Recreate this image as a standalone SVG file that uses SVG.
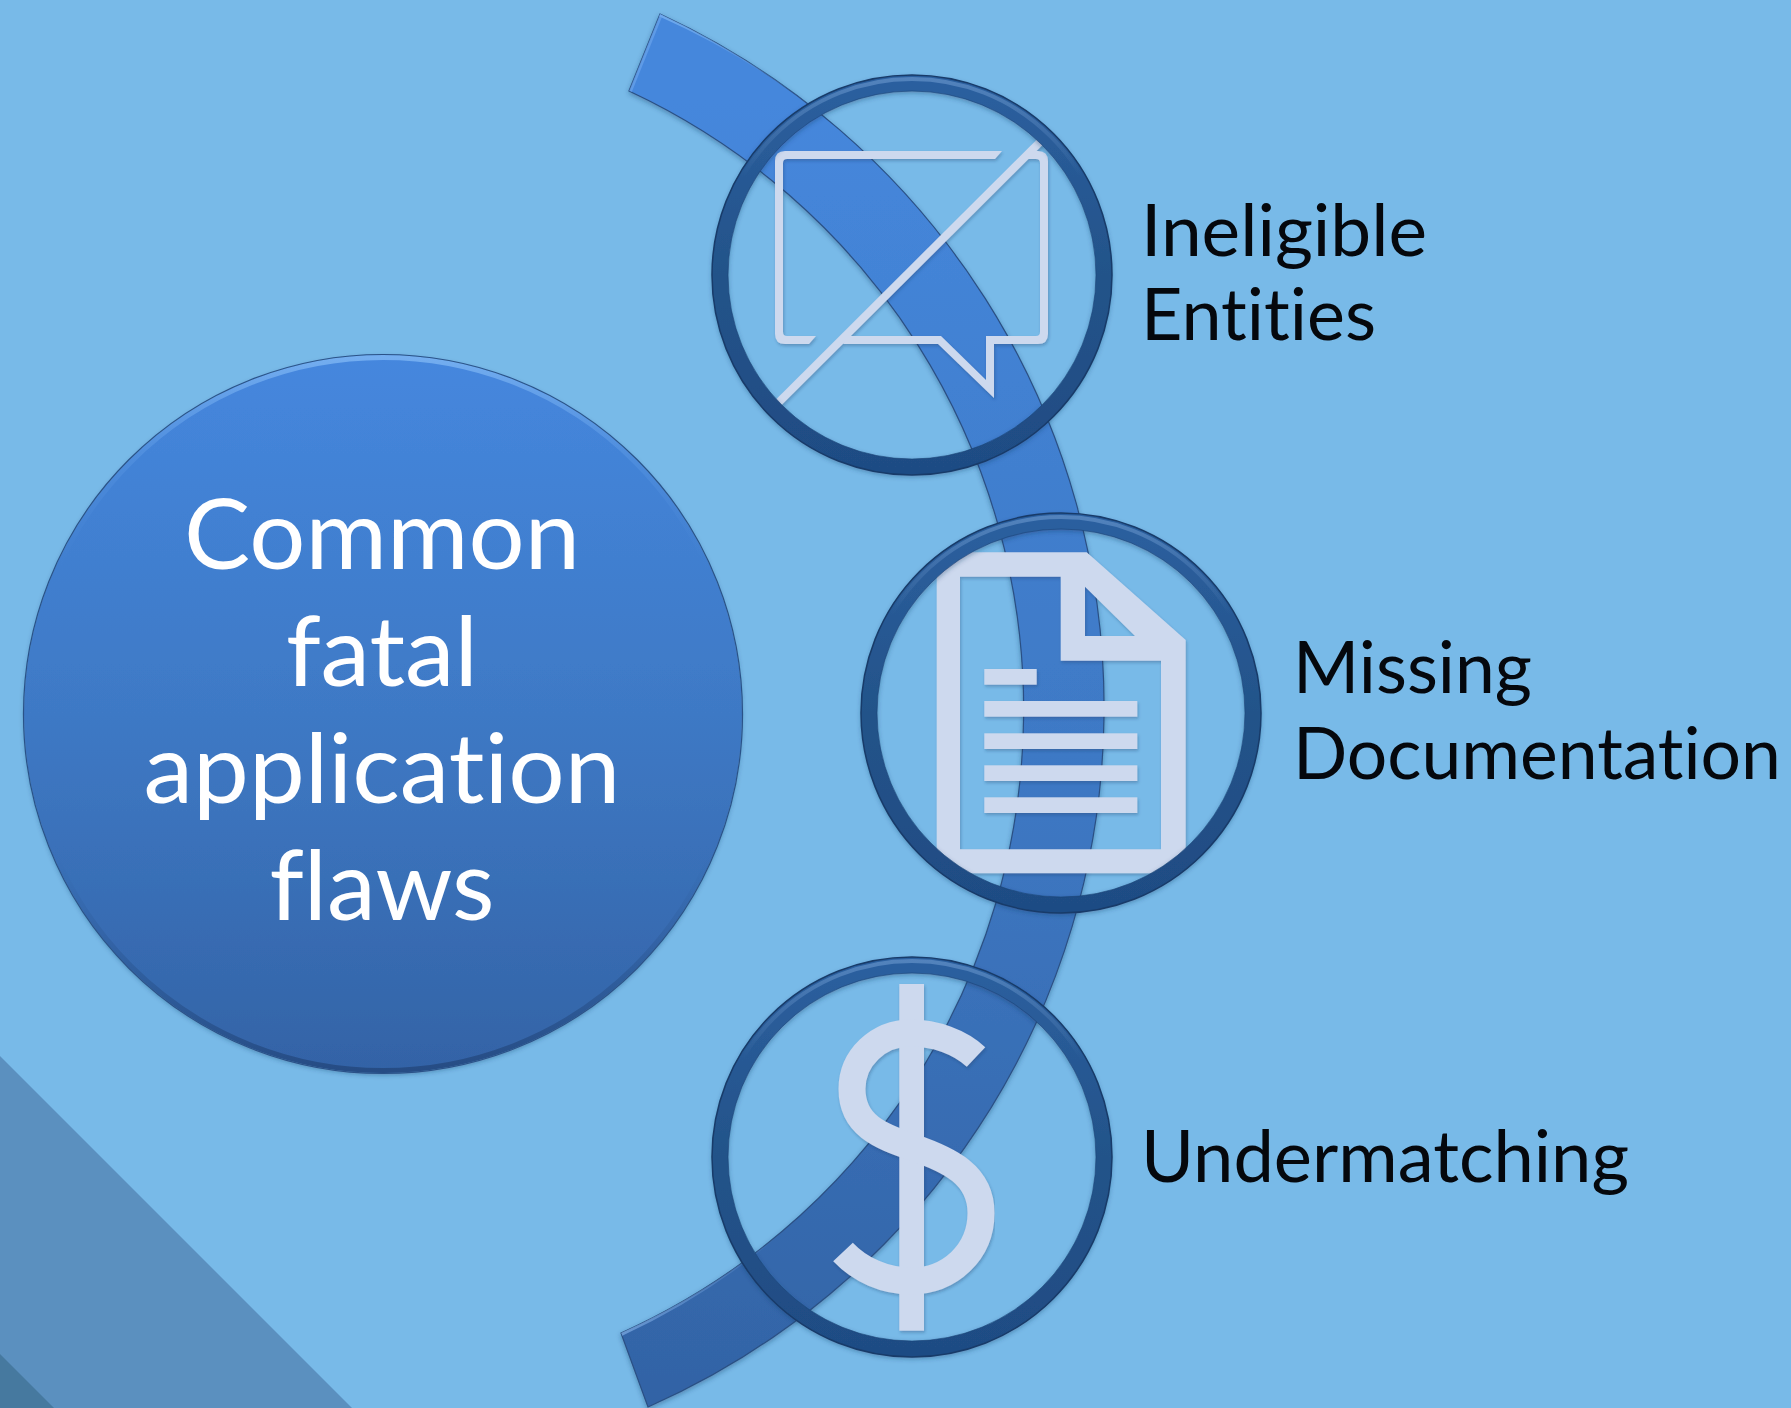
<svg xmlns="http://www.w3.org/2000/svg" width="1791" height="1408" viewBox="0 0 1791 1408">
<defs>
<linearGradient id="circFill" gradientUnits="userSpaceOnUse" x1="0" y1="354" x2="0" y2="1074"><stop offset="0" stop-color="#4587de"/><stop offset="0.5" stop-color="#3e79c5"/><stop offset="1" stop-color="#3363a6"/></linearGradient>
<linearGradient id="bandFill" gradientUnits="userSpaceOnUse" x1="0" y1="100" x2="0" y2="1408"><stop offset="0" stop-color="#4587dc"/><stop offset="0.5" stop-color="#3e79c5"/><stop offset="1" stop-color="#3263a5"/></linearGradient>
<linearGradient id="rim" x1="0" y1="0" x2="0" y2="1"><stop offset="0" stop-color="#74aef0"/><stop offset="0.15" stop-color="#5f9ce6" stop-opacity="0.35"/><stop offset="0.3" stop-color="#4d8ad8" stop-opacity="0"/><stop offset="0.7" stop-color="#2f5f9e" stop-opacity="0"/><stop offset="1" stop-color="#264c84"/></linearGradient>
<linearGradient id="ringFill" x1="0" y1="0" x2="0" y2="1"><stop offset="0" stop-color="#2c5f9f"/><stop offset="0.5" stop-color="#235389"/><stop offset="1" stop-color="#1f4c84"/></linearGradient>
<linearGradient id="ringHi" x1="0" y1="0" x2="0" y2="1"><stop offset="0" stop-color="#8fb8e8" stop-opacity="0.4"/><stop offset="0.25" stop-color="#8fb8e8" stop-opacity="0"/></linearGradient>
<linearGradient id="topHi" gradientUnits="userSpaceOnUse" x1="660" y1="14" x2="800" y2="100"><stop offset="0" stop-color="#7ab4f4" stop-opacity="0.8"/><stop offset="1" stop-color="#7ab4f4" stop-opacity="0.1"/></linearGradient>
<linearGradient id="botHi" gradientUnits="userSpaceOnUse" x1="621" y1="1333" x2="780" y2="1230"><stop offset="0" stop-color="#7aa8e0" stop-opacity="0.75"/><stop offset="1" stop-color="#7aa8e0" stop-opacity="0"/></linearGradient>
<filter id="soft" x="-10%" y="-10%" width="120%" height="120%"><feDropShadow dx="0" dy="2" stdDeviation="2.5" flood-color="#16365e" flood-opacity="0.4"/></filter>
<filter id="iconShadow" x="-10%" y="-10%" width="120%" height="120%"><feDropShadow dx="1" dy="2" stdDeviation="1.5" flood-color="#16365e" flood-opacity="0.3"/></filter>
<clipPath id="clipA"><circle cx="912" cy="275" r="186"/></clipPath>
<clipPath id="clipB"><circle cx="1061" cy="713" r="186"/></clipPath>
<clipPath id="bandClip"><path d="M660,14 A764,764 0 0 1 648,1407 L621,1333 A683,683 0 0 0 629,91 Z"/></clipPath>
</defs>
<style>
.ring{fill:none;stroke:url(#ringFill);stroke-width:16}
.ringEdge{fill:none;stroke:#183b69;stroke-width:1.5}
.ringIn{fill:none;stroke:#1b4376;stroke-width:1;opacity:.6}
.ringHi{fill:none;stroke:url(#ringHi);stroke-width:4}
.icon{fill:#cdd9ee}
.label{font-family:Lato,"Liberation Sans",sans-serif;font-size:71px;fill:#05080d;font-variant-ligatures:none}
.title{font-family:Lato,"Liberation Sans",sans-serif;font-size:96px;fill:#ffffff;text-anchor:middle;font-variant-ligatures:none}
</style>
<rect width="1791" height="1408" fill="#78bae8"/>
<polygon points="0,1056 352,1408 0,1408" fill="#5b90bf"/>
<polygon points="0,1354 54,1408 0,1408" fill="#46799f"/>

<g id="arc">
<path d="M660,14 A764,764 0 0 1 648,1407 L621,1333 A683,683 0 0 0 629,91 Z" fill="url(#bandFill)" stroke="#2a5084" stroke-width="1.2" filter="url(#soft)"/>
<g clip-path="url(#bandClip)">
<path d="M660,14 A764,764 0 0 1 820,110" fill="none" stroke="url(#topHi)" stroke-width="5"/>
<path d="M621,1333 A683,683 0 0 0 790,1222" fill="none" stroke="url(#botHi)" stroke-width="6"/>
<path d="M660,14 L629,91" fill="none" stroke="#6fa9ee" stroke-width="6" opacity="0.6"/>
</g>
</g>

<g id="center">
<circle cx="383" cy="714" r="359" fill="url(#circFill)" filter="url(#soft)"/>
<circle cx="383" cy="714" r="356.5" fill="none" stroke="url(#rim)" stroke-width="5"/>
<circle cx="383" cy="714" r="359.5" fill="none" stroke="#2a5288" stroke-width="1.2"/>
<text class="title" x="382" y="569" textLength="396" lengthAdjust="spacingAndGlyphs">Common</text>
<text class="title" x="382" y="686" textLength="192" lengthAdjust="spacingAndGlyphs">fatal</text>
<text class="title" x="382" y="803" textLength="477" lengthAdjust="spacingAndGlyphs">application</text>
<text class="title" x="382" y="920" textLength="225" lengthAdjust="spacingAndGlyphs">flaws</text>
</g>

<g id="node-ineligible">
<g filter="url(#iconShadow)">
<g clip-path="url(#clipA)">
<path class="icon" d="M1002,151 H785 Q775,151 775,161 V334 Q775,344 785,344 H809 L816,336 H787 Q783,336 783,332 V163 Q783,159 787,159 H995 Z"/>
<path class="icon" d="M843,344 H938 L994,398 V344 H1038 Q1048,344 1048,334 V161 Q1048,151 1038,151 H1034 L1027,159 H1036 Q1040,159 1040,163 V332 Q1040,336 1036,336 H986 V380 L941,336 H848 Z"/>
<line x1="770" y1="411" x2="1050" y2="132" stroke="#cdd9ee" stroke-width="8"/>
</g>
</g>
<circle class="ring" cx="912" cy="275" r="192" filter="url(#soft)"/>
<circle class="ringHi" cx="912" cy="275" r="196"/>
<circle class="ringEdge" cx="912" cy="275" r="200"/>
<circle class="ringIn" cx="912" cy="275" r="184"/>
<text class="label" x="1141" y="256" textLength="286" lengthAdjust="spacingAndGlyphs">Ineligible</text>
<text class="label" x="1141" y="340" textLength="235" lengthAdjust="spacingAndGlyphs">Entities</text>
</g>

<g id="node-missing">
<g filter="url(#iconShadow)">
<g clip-path="url(#clipB)">
<path class="icon" fill-rule="evenodd" d="M936.7,552.3 H1086.7 L1185.7,640 V873.3 H936.7 Z M960,576.7 V849.3 H1161 V660.7 H1060.7 V576.7 Z M1085,586.7 V636 H1135 Z"/>
</g>
<rect class="icon" x="984.3" y="669" width="52.4" height="15.7"/>
<rect class="icon" x="984.3" y="701" width="153" height="15.7"/>
<rect class="icon" x="984.3" y="733.3" width="153" height="15.7"/>
<rect class="icon" x="984.3" y="765.3" width="153" height="15.7"/>
<rect class="icon" x="984.3" y="797.3" width="153" height="15.7"/>
</g>
<circle class="ring" cx="1061" cy="713" r="192" filter="url(#soft)"/>
<circle class="ringHi" cx="1061" cy="713" r="196"/>
<circle class="ringEdge" cx="1061" cy="713" r="200"/>
<circle class="ringIn" cx="1061" cy="713" r="184"/>
<text class="label" x="1293" y="693" textLength="239" lengthAdjust="spacingAndGlyphs">Missing</text>
<text class="label" x="1293" y="779" textLength="488" lengthAdjust="spacingAndGlyphs">Documentation</text>
</g>

<g id="node-undermatching">
<circle class="ring" cx="912" cy="1157" r="192" filter="url(#soft)"/>
<circle class="ringHi" cx="912" cy="1157" r="196"/>
<circle class="ringEdge" cx="912" cy="1157" r="200"/>
<circle class="ringIn" cx="912" cy="1157" r="184"/>
<g filter="url(#iconShadow)">
<rect class="icon" x="899.3" y="984" width="24.7" height="346.7"/>
<path d="M976,1057 C960,1042 935,1033 911,1033 C878,1033 852,1058 852,1089 C852,1125 880,1136 912,1147 C950,1160 981,1175 981,1213 C981,1252 950,1281 911,1281 C885,1281 860,1270 843,1252" fill="none" stroke="#cdd9ee" stroke-width="27"/>
</g>
<text class="label" x="1141" y="1182" textLength="488" lengthAdjust="spacingAndGlyphs">Undermatching</text>
</g>
</svg>
